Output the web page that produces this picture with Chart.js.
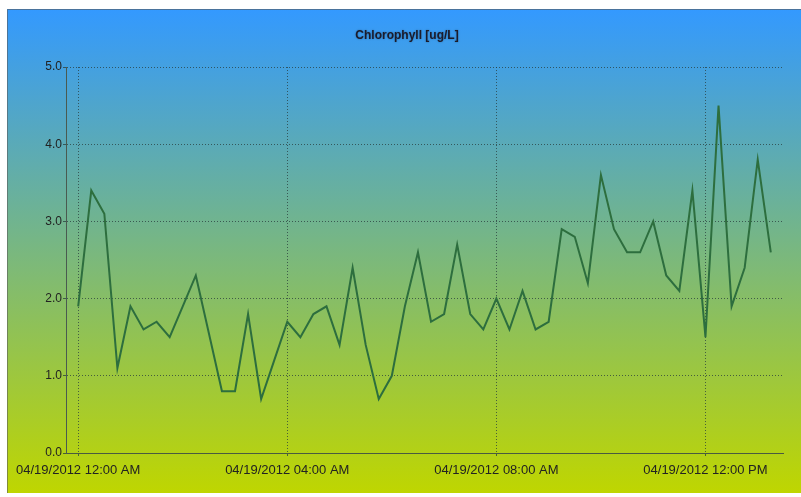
<!DOCTYPE html>
<html>
<head>
<meta charset="utf-8">
<script src="https://cdn.jsdelivr.net/npm/chart.js@4/dist/chart.umd.min.js"></script>
<style>
  html, body { margin: 0; padding: 0; background: #fff; }
  #wrap { width: 801px; height: 497px; }
</style>
</head>
<body>
<div id="wrap"><canvas id="chlorophyllChart" width="801" height="497"></canvas></div>
<script>
// readings every 15 minutes, starting 04/19/2012 12:00 AM
const stepMinutes = 15;
const chlorophyll = [1.9, 3.4, 3.1, 1.1, 1.9, 1.6, 1.7, 1.5, 1.9, 2.3,
                     1.55, 0.8, 0.8, 1.8, 0.7, 1.2, 1.7, 1.5, 1.8, 1.9,
                     1.4, 2.4, 1.4, 0.7, 1.0, 1.9, 2.6, 1.7, 1.8, 2.7,
                     1.8, 1.6, 2.0, 1.6, 2.1, 1.6, 1.7, 2.9, 2.8, 2.2,
                     3.6, 2.9, 2.6, 2.6, 3.0, 2.3, 2.1, 3.4, 1.5, 4.5,
                     1.9, 2.4, 3.8, 2.6];
const tickMinutes = [0, 240, 480, 720];
const tickLabels = ['04/19/2012 12:00 AM', '04/19/2012 04:00 AM', '04/19/2012 08:00 AM', '04/19/2012 12:00 PM'];
const yTicks = [0, 1, 2, 3, 4, 5];
const chartTitle = 'Chlorophyll [ug/L]';

const points = chlorophyll.map(function (v, i) { return { x: i * stepMinutes, y: v }; });

// gradient panel + title
const panelBg = {
    id: 'panelBg',
    beforeDraw: function (chart) {
        const ctx = chart.ctx;
        ctx.save();
        ctx.fillStyle = '#ffffff';
        ctx.fillRect(0, 0, chart.width, chart.height);
        const g = ctx.createLinearGradient(0, 9, 0, 493);
        g.addColorStop(0, '#3399ff');
        g.addColorStop(1, '#bfd600');
        ctx.fillStyle = g;
        ctx.fillRect(7, 9, chart.width - 7, 484);
        ctx.strokeStyle = 'rgba(90,90,90,0.6)';
        ctx.lineWidth = 1;
        ctx.beginPath();
        ctx.moveTo(7.5, 493);
        ctx.lineTo(7.5, 9.5);
        ctx.lineTo(chart.width, 9.5);
        ctx.stroke();

        ctx.font = 'bold 12px "Liberation Sans"';
        ctx.textAlign = 'center';
        ctx.textBaseline = 'middle';
        ctx.shadowColor = 'rgba(0,0,0,0.35)';
        ctx.shadowBlur = 2;
        ctx.fillStyle = '#1b1b2b';
        ctx.fillText(chartTitle, 407, 36);
        ctx.restore();
    }
};

new Chart(document.getElementById('chlorophyllChart'), {
    type: 'line',
    data: {
        datasets: [{
            label: chartTitle,
            data: points,
            borderColor: '#2d6e3e',
            borderWidth: 2,
            pointRadius: 0,
            tension: 0,
            fill: false
        }]
    },
    options: {
        responsive: false,
        animation: false,
        layout: { padding: { left: 7, right: 18, top: 67, bottom: 0 } },
        plugins: {
            legend: { display: false },
            tooltip: { enabled: false },
            title: { display: false }
        },
        scales: {
            x: {
                type: 'linear',
                min: -14,
                max: 809,
                afterBuildTicks: function (scale) {
                    scale.ticks = tickMinutes.map(function (v) { return { value: v }; });
                },
                afterFit: function (scale) { scale.height = 44; },
                ticks: {
                    autoSkip: false,
                    maxRotation: 0,
                    color: '#222',
                    font: { family: 'Liberation Sans', size: 13 },
                    padding: 7,
                    callback: function (v) {
                        const i = tickMinutes.indexOf(v);
                        return i >= 0 ? tickLabels[i] : '';
                    }
                },
                grid: {
                    color: 'rgba(40,60,60,0.75)',
                    lineWidth: 1,
                    tickLength: 3
                },
                border: { display: true, color: '#4a5a40', width: 1, dash: [1, 2] }
            },
            y: {
                min: 0,
                max: 5,
                afterBuildTicks: function (scale) {
                    scale.ticks = yTicks.map(function (v) { return { value: v }; });
                },
                afterFit: function (scale) { scale.width = 59; },
                ticks: {
                    color: '#222',
                    font: { family: 'Liberation Sans', size: 12 },
                    padding: 1,
                    callback: function (v) { return v.toFixed(1); }
                },
                grid: {
                    color: 'rgba(40,60,60,0.75)',
                    lineWidth: 1,
                    tickLength: 3
                },
                border: { display: true, color: '#4a5a50', width: 1, dash: [1, 2] }
            }
        }
    },
    plugins: [panelBg]
});
</script>
</body>
</html>
